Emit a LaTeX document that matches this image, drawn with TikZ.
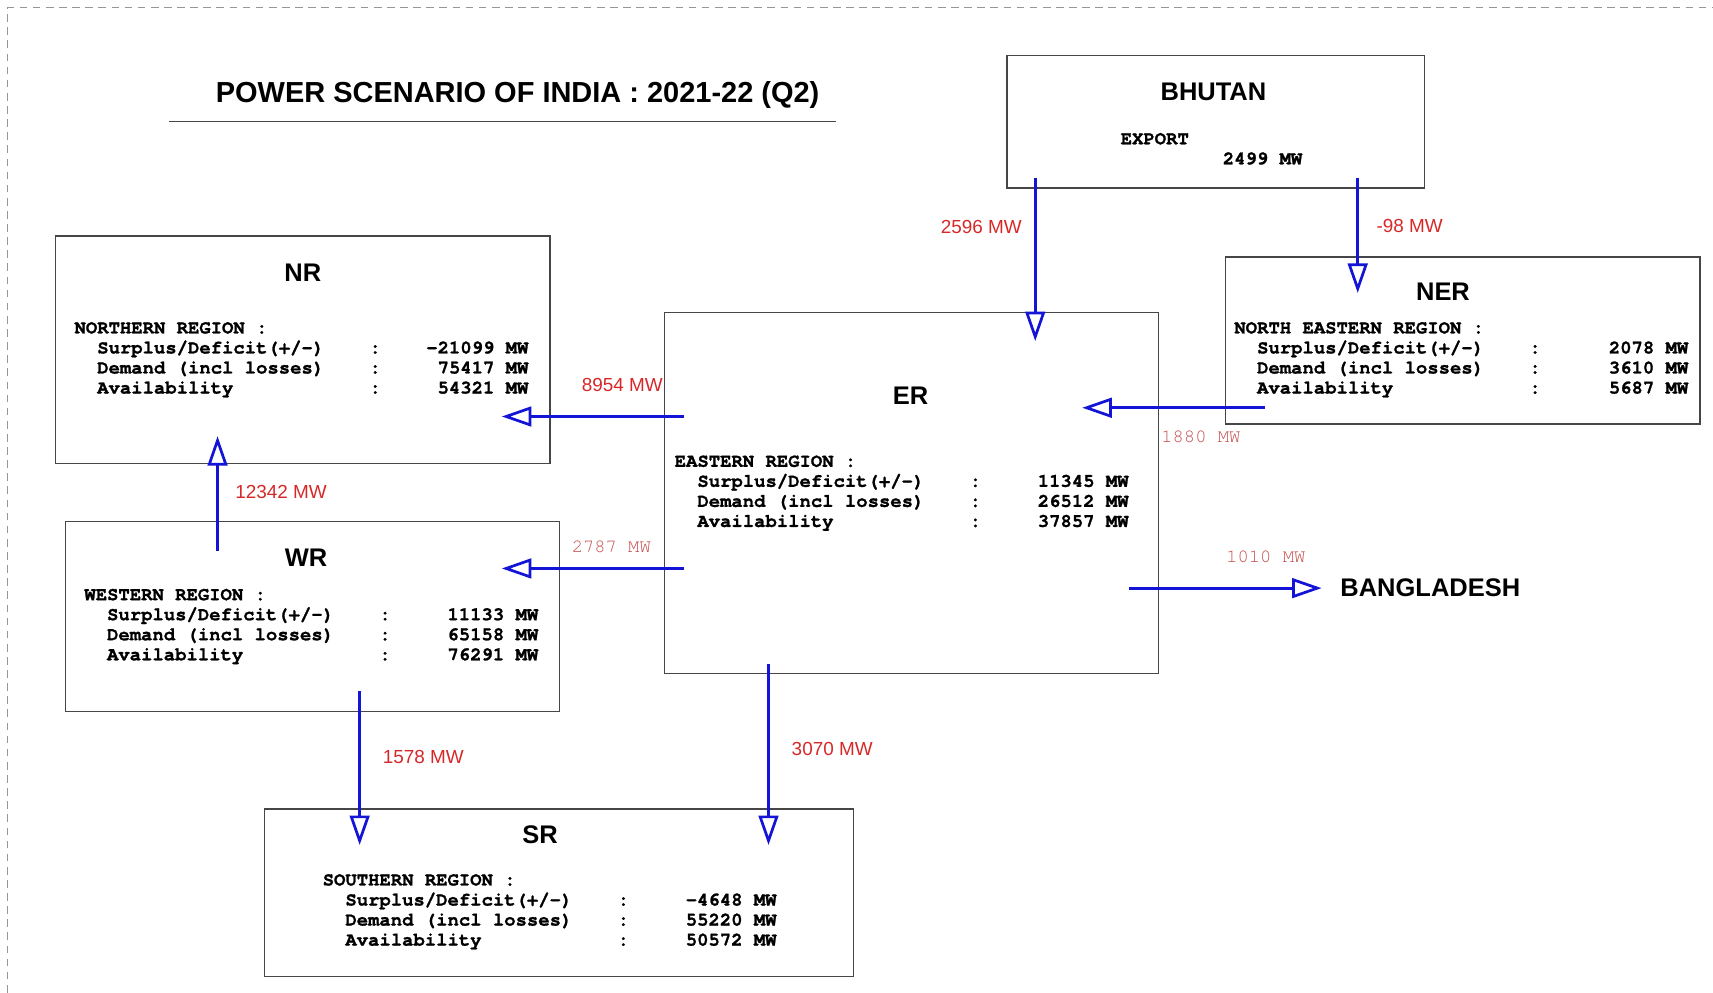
\documentclass[tikz,border=0pt]{standalone}
\usepackage{fontspec}
\setmainfont{Liberation Sans}
\newfontfamily\cursorfont{texgyrecursor}[Extension=.otf,UprightFont=*-regular,BoldFont=*-bold,BoldFeatures={FakeBold=1.2},Ligatures=NoCommon]
\usetikzlibrary{arrows.meta,positioning}
\definecolor{flowblue}{RGB}{20,20,215}
\definecolor{flowred}{RGB}{215,40,40}
\definecolor{flowrose}{RGB}{195,75,75}
\definecolor{boxgray}{RGB}{70,70,70}
\definecolor{framegray}{RGB}{150,150,150}
\newcommand{\regiontext}[4]{\vtop{\baselineskip=18.33pt
	\hbox{#1 :}
	\hbox{\hspace*{1.2em}\makebox[14.4em][l]{Surplus/Deficit(+/-)}:\makebox[7.8em][r]{#2 MW}}
	\hbox{\hspace*{1.2em}\makebox[14.4em][l]{Demand (incl losses)}:\makebox[7.8em][r]{#3 MW}}
	\hbox{\hspace*{1.2em}\makebox[14.4em][l]{Availability}:\makebox[7.8em][r]{#4 MW}}}}
\begin{document}
\begin{tikzpicture}[x=1pt,y=-1pt,
		regbox/.style={draw=boxgray,line width=1.3pt,inner sep=0pt,outer sep=0pt,anchor=north west},
		head/.style={font=\fontsize{23.3}{28}\selectfont\bfseries,inner sep=0pt,anchor=base},
		data/.style={font=\fontsize{17.3}{18.33}\cursorfont\bfseries,inner sep=0pt,anchor=base west},
		flow/.style={draw=flowblue,line width=2.5pt,-{Triangle[open,length=27pt,width=18pt]}},
		mwlab/.style={font=\fontsize{17.3}{20}\selectfont,text=flowred,inner sep=0pt},
		mwmono/.style={font=\fontsize{17.2}{20}\cursorfont,text=flowrose,inner sep=0pt}]
	\useasboundingbox (0,0) rectangle (1567,908);
	\draw[framegray,line width=1pt,dash pattern=on 7pt off 5pt] (7,908) -- (7,7) -- (1567,7);
	\node[font=\fontsize{26.5}{30}\selectfont\bfseries,inner sep=0pt,anchor=base] (title) at (473.5,93.5) {POWER SCENARIO OF INDIA : 2021-22 (Q2)};
	\draw[boxgray,line width=1.3pt] (155,111) -- (765,111);
	\foreach \n/\x/\y/\w/\h in {bhutan/921/51/382/121,nr/51/216/452/208,ner/1121/235/434/153,er/608/286/452/330,wr/60/477/452/174,sr/242/740/539/153}
		\node[regbox,minimum width=\w*1pt,minimum height=\h*1pt] (\n) at (\x,\y) {};
	\foreach \n/\t/\x/\y in {bhutan/BHUTAN/1110/92.3,nr/NR/277/257.3,ner/NER/1320/275.3,er/ER/833/370.3,wr/WR/280/518.3,sr/SR/494/771.3}
		\node[head] (\n-head) at (\x,\y) {\t};
	\node[head,anchor=west] (bd) at (1226,538) {BANGLADESH};
	\node[data] (bhutan-data) at (1025,132) {\vtop{\baselineskip=18.33pt\hbox{EXPORT}\hbox{\hspace*{5.4em}2499 MW}}};
	\node[data] (nr-data) at (68,305) {\regiontext{NORTHERN REGION}{-21099}{75417}{54321}};
	\node[data] (ner-data) at (1129,305) {\regiontext{NORTH EASTERN REGION}{2078}{3610}{5687}};
	\node[data] (er-data) at (617,427) {\regiontext{EASTERN REGION}{11345}{26512}{37857}};
	\node[data] (wr-data) at (77,549) {\regiontext{WESTERN REGION}{11133}{65158}{76291}};
	\node[data] (sr-data) at (295,810) {\regiontext{SOUTHERN REGION}{-4648}{55220}{50572}};
	\draw[flow] ([shift={(26,-9)}]bhutan.south west) -- node[mwlab,pos=.3,left=11pt]{2596 MW} ([shift={(339,26)}]er.north west);
	\draw[flow] ([shift={(-61,-9)}]bhutan.south east) -- node[mwlab,pos=.42,right=16pt]{-98 MW} ([shift={(121,33)}]ner.north west);
	\draw[flow] ([shift={(18,95)}]er.north west) -- node[mwlab,pos=.34,above=21pt]{8954 MW} ([shift={(-44,165)}]nr.north east);
	\draw[flow] ([shift={(36,-15)}]ner.south west) -- node[mwmono,pos=.35,below=20pt]{1880 MW} ([shift={(-70,87)}]er.north east);
	\draw[flow] ([shift={(18,234)}]er.north west) -- node[mwmono,pos=.4,above=13pt]{2787 MW} ([shift={(-53,43)}]wr.north east);
	\draw[flow] ([shift={(139,27)}]wr.north west) -- node[mwlab,pos=.51,right=15pt]{12342 MW} ([shift={(148,-25)}]nr.south west);
	\draw[flow] ([shift={(269,-19)}]wr.south west) -- node[mwlab,pos=.43,right=20pt]{1578 MW} ([shift={(87,33)}]sr.north west);
	\draw[flow] ([shift={(95,-9)}]er.south west) -- node[mwlab,pos=.47,right=20pt]{3070 MW} ([shift={(461,33)}]sr.north west);
	\draw[flow] ([shift={(-27,-78)}]er.south east) -- node[mwmono,pos=.71,above=22pt]{1010 MW} ([xshift=-17pt]bd.west);
\end{tikzpicture}
\end{document}
